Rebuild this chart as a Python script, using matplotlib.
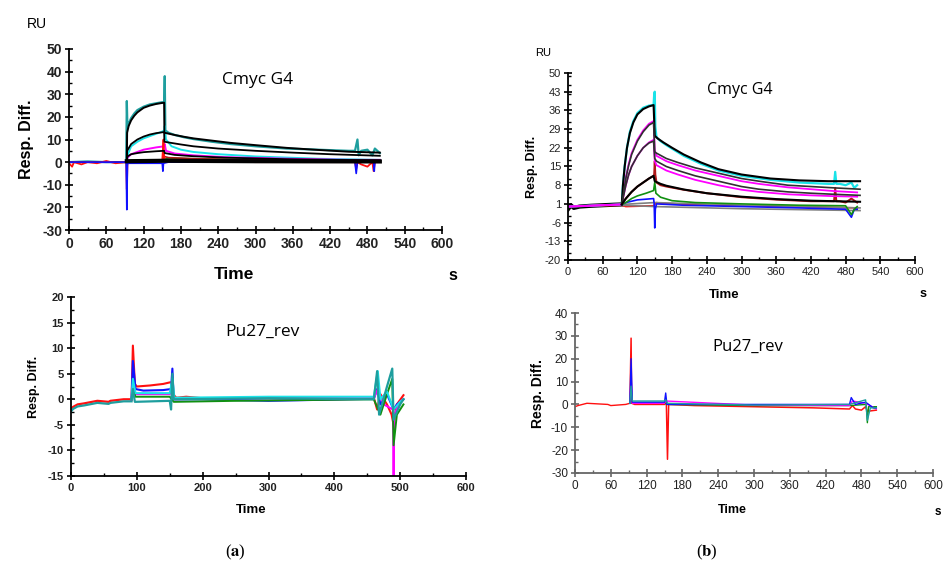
import matplotlib

matplotlib.use("Agg")
import matplotlib.pyplot as plt
from matplotlib.ticker import MultipleLocator

plt.rcParams["font.family"] = ["Liberation Sans", "DejaVu Sans"]
plt.rcParams["mathtext.fontset"] = "stix"
plt.rcParams["axes.unicode_minus"] = False

TEAL = "#1e9e9e"
CYAN = "#19e3e8"
MAGENTA = "#ff00ff"
RED = "#ff1010"
DKRED = "#b01818"
BLUE = "#1010ff"
GREEN = "#109010"
GRAY = "#808080"

# ---- panel (a) top: Cmyc G4 ----
A1_TEAL_T = [0, 30, 60, 92, 93, 94, 96, 100, 105, 110, 120, 130, 140, 150, 153, 154, 155, 160, 170, 185, 200, 230, 260, 300, 350, 400, 450, 460, 464, 466, 470, 480, 488, 492, 500]
A1_TEAL_Y = [0, 0.3, 0, 0, 27, 15, 17, 19.5, 21.5, 23, 24.5, 25.5, 26, 26.5, 26, 38, 14, 13, 12, 11, 10.2, 9, 8, 7, 6, 5.5, 5, 5, 10, 3, 5, 5.5, 3, 6, 4]
A1_FIT1_T = [93, 93.5, 96, 100, 105, 110, 120, 130, 140, 153, 153.5, 160, 170, 185, 200, 230, 260, 300, 350, 400, 450, 500]
A1_FIT1_Y = [0, 13, 16, 18.5, 20.5, 22, 24, 25, 25.7, 26.3, 13, 12.6, 12, 11.2, 10.5, 9.5, 8.5, 7.5, 6.3, 5.4, 4.6, 4.2]
A1_CYAN_T = [0, 93, 94, 100, 110, 120, 130, 140, 150, 153, 154, 156, 165, 180, 200, 240, 300, 400, 500]
A1_CYAN_Y = [0, 0, 3, 7, 9, 10.5, 11.5, 12.5, 13.5, 14, 16, 10, 7, 5.5, 4.5, 3.5, 2.5, 1.5, 1]
A1_FIT2_T = [93, 93.5, 100, 110, 120, 130, 140, 153, 153.5, 160, 180, 200, 240, 300, 360, 420, 500]
A1_FIT2_Y = [0, 5, 8, 10, 11.3, 12.2, 12.8, 13.3, 9, 8.7, 7.8, 7, 6, 5, 4.2, 3.5, 2.8]
A1_MAG_T = [0, 93, 94, 100, 110, 120, 130, 140, 153, 154, 156, 170, 200, 250, 350, 450, 500]
A1_MAG_Y = [0, 0, 2, 3.5, 4.5, 5.5, 6, 6.5, 7, 8, 5, 3.8, 3, 2.2, 1.5, 1, 1]
A1_FIT3_T = [93, 94, 100, 110, 120, 140, 153, 154, 170, 200, 250, 350, 450, 500]
A1_FIT3_Y = [0, 2.5, 3.5, 4, 4.4, 4.8, 5, 4, 3.2, 2.6, 2, 1.3, 0.9, 0.8]
A1_GREEN_T = [0, 93, 100, 150, 153, 160, 200, 300, 400, 500]
A1_GREEN_Y = [0, 0, 0.8, 1, 1.2, 1.8, 1.5, 1, 0.5, 0.5]
A1_DKRED_T = [0, 93, 100, 150, 153, 160, 200, 300, 400, 500]
A1_DKRED_Y = [0, 0, 0.5, 0.5, 2.5, 2, 1.5, 1.0, 0.6, 0.3]
A1_RED_T = [0, 5, 8, 20, 30, 45, 60, 75, 92, 93, 94, 95, 100, 150, 152, 153, 154, 160, 200, 300, 400, 460, 462, 464, 470, 480, 488, 490, 492, 500]
A1_RED_Y = [-0.5, -2, 0, -1, 0, -0.5, 0.5, -0.5, 0, -12, -1, 0, 0.5, 0.5, 10, 3, 1, 0.5, 0.3, 0, 0, 0, -3, 0, -1, -2, 0, -4, 0, 0]
A1_BLUE_T = [0, 92, 93, 94, 95, 100, 150, 151, 152, 160, 300, 460, 462, 464, 490, 491, 492, 500]
A1_BLUE_Y = [0, 0, -21, -1, -0.5, -0.5, -0.5, -4, -0.5, 0, 0, 0, -5, 0, 0, -4, 0, 0]
A1_FIT0_T = [93, 153, 300, 500]
A1_FIT0_Y = [0.4, 0.6, 0.4, 0.3]

# ---- panel (b) top: Cmyc G4 ----
B1_BASE_T = [0, 5, 10, 20, 40, 60, 80, 93]
B1_BASE_Y = [-1, 0.5, -0.5, 0, 0.3, 0.5, 0.7, 0.8]
B1_CYAN_T = [0, 93, 95, 98, 102, 107, 113, 120, 130, 140, 148, 149, 150, 151, 153, 160, 170, 185, 200, 230, 260, 300, 350, 400, 450, 460, 462, 464, 470, 480, 490, 495, 500]
B1_CYAN_Y = [0, 0.8, 8, 15, 22, 28, 32, 35, 37, 37.8, 38, 42, 43, 30, 26, 24.5, 23, 21, 19, 16, 13.5, 11.5, 10, 9, 8.5, 8.5, 13, 8.5, 8.5, 8, 9, 7, 8]
B1_FIT1_T = [93, 95, 98, 102, 107, 113, 120, 130, 140, 148, 150, 155, 165, 180, 200, 230, 260, 300, 350, 400, 450, 505]
B1_FIT1_Y = [0.8, 8, 15, 22, 27.5, 31.5, 34.5, 36.5, 37.5, 38, 26.5, 25.5, 24, 22, 19.5, 16.5, 14, 12, 10.5, 9.8, 9.5, 9.5]
B1_MAG1_T = [0, 93, 96, 100, 105, 110, 120, 130, 140, 148, 150, 153, 170, 190, 220, 260, 300, 330, 380, 420, 460, 500]
B1_MAG1_Y = [0, 0.8, 5, 11, 16, 20, 25, 28.5, 31, 32, 21, 19, 17, 15.5, 13.5, 11.5, 9.5, 8.5, 7.2, 6.5, 5.8, 5.3]
B1_FIT2_T = [93, 96, 100, 105, 110, 120, 130, 140, 148, 150, 153, 170, 190, 220, 260, 300, 330, 380, 420, 460, 505]
B1_FIT2_Y = [0.8, 5, 10.5, 15.5, 19.5, 24.5, 28, 30.5, 31.5, 20.5, 20, 18, 16.5, 14.5, 12.5, 10.5, 9.5, 8, 7.5, 7, 6.5]
B1_MAG2_T = [0, 93, 96, 100, 105, 110, 120, 130, 140, 148, 150, 153, 170, 190, 220, 260, 300, 330, 380, 420, 460, 500]
B1_MAG2_Y = [0, 0.8, 4, 8, 12, 15, 19, 22, 24, 25, 17, 15.5, 13.5, 12, 10, 8, 6.3, 5.5, 4.6, 4.2, 3.9, 3.7]
B1_FIT3_T = [93, 96, 100, 105, 110, 120, 130, 140, 148, 150, 153, 170, 190, 220, 260, 300, 330, 380, 420, 460, 505]
B1_FIT3_Y = [0.8, 4, 8, 12, 15, 19, 22, 23.8, 24.5, 18, 17, 15, 13.5, 11.5, 9.5, 7.5, 6.5, 5.5, 5, 4.6, 4.2]
B1_DKRED_T = [0, 93, 95, 100, 110, 120, 130, 140, 148, 149, 150, 151, 153, 160, 170, 200, 240, 300, 360, 420, 458, 460, 462, 464, 470, 480, 490, 500]
B1_DKRED_Y = [0, 0.8, 1.5, 3, 5.5, 7.5, 9, 10.5, 11.5, 12, 17, 12, 9, 8, 7.5, 6.3, 5, 3.5, 2.6, 2, 2, 2, 7, 2, 2, 1.5, 3, 1.5]
B1_FIT4_T = [93, 95, 100, 110, 120, 130, 140, 148, 150, 160, 170, 200, 240, 300, 360, 420, 505]
B1_FIT4_Y = [0.8, 1.5, 3, 5.5, 7.5, 9, 10.5, 11.5, 9.5, 8.5, 7.8, 6.4, 5, 3.7, 2.8, 2.2, 1.8]
B1_GREEN_T = [0, 93, 100, 110, 120, 135, 148, 150, 152, 160, 180, 220, 300, 400, 480, 490, 495, 500]
B1_GREEN_Y = [0, 0.8, 1.5, 3, 4, 5, 6, 9, 5, 3.5, 2.2, 1.5, 1, 0.5, 0.3, -3, -1, 0]
B1_BLUE_T = [0, 93, 100, 120, 148, 149, 150, 151, 153, 200, 300, 400, 480, 490, 495, 500]
B1_BLUE_Y = [0, 0.8, 1.5, 2.5, 3, 1, -8, -1, 1, 0.5, 0, -0.5, -1, -4, -1, -1]
B1_RED_T = [0, 93, 100, 148, 153, 160, 300, 400, 500]
B1_RED_Y = [0, 0.5, 0, 0.3, 1.5, 1.2, 0.3, 0, -0.5]
B1_GRAY1_T = [93, 150, 300, 505]
B1_GRAY1_Y = [0.8, 1.5, 0.5, -0.5]
B1_GRAY2_T = [93, 150, 300, 505]
B1_GRAY2_Y = [0.5, 0, -0.8, -1.5]

# ---- panel (a) bottom: Pu27_rev ----
A2_BASE_T = [0, 3, 10, 20, 40, 57, 60, 80, 92]
A2_BASE_Y = [-2, -1.5, -1, -0.8, -0.3, -0.5, -0.3, 0, 0]
A2_RED_T = [92, 94, 97, 100, 120, 140, 150, 153, 155, 160, 175, 200, 300, 460, 465, 470, 480, 487, 490, 495, 505]
A2_RED_Y = [0, 10.5, 3, 2.5, 2.7, 3, 3.3, 3.3, 1, 0.3, 0.5, 0.2, 0.3, 0.3, -2, 1, -1, -3, -5, -1, 0.8]
A2_BLUE_T = [92, 94, 98, 110, 140, 152, 154, 156, 200, 300, 460, 465, 470, 480, 490, 495, 505]
A2_BLUE_Y = [0, 7.5, 2, 1.7, 1.8, 2, 6, 0, 0, -0.3, 0.1, 2, -1, 1, -2, -1, 0]
A2_MAG_T = [92, 94, 98, 150, 154, 156, 250, 460, 466, 475, 489, 490, 491, 500, 505]
A2_MAG_Y = [0, 3, 1, 1, 2, 0, 0.2, 0.2, 2, -1, -2, -15, -3, -0.5, 0]
A2_GREEN_T = [92, 94, 98, 150, 156, 250, 460, 470, 480, 488, 490, 495, 500, 505]
A2_GREEN_Y = [0, 2, 0.5, 0.5, -0.5, -0.3, 0, -3, 1, 4, -9, -3, -2, -1]
A2_TEAL_T = [92, 94, 97, 150, 152, 154, 156, 300, 460, 465, 468, 480, 488, 490, 500, 505]
A2_TEAL_Y = [0, 2, -0.5, -0.3, -2, 5, 0, 0.2, 0, 5.5, -3, 2.5, 6, -4, -1, 0]
A2_CYAN_T = [92, 94, 98, 150, 154, 157, 300, 460, 466, 470, 480, 490, 500, 505]
A2_CYAN_Y = [0, 4, 1.2, 1.2, 4, 0.3, 0.5, 0.5, 5.5, 0, 1.5, -2, -0.5, 0]

# ---- panel (b) bottom: Pu27_rev ----
B2_BASE_T = [0, 5, 20, 55, 60, 85, 92]
B2_BASE_Y = [-1, -0.5, 0.5, 0, -0.5, 0, 0.5]
B2_RED_T = [92, 94, 95, 100, 150, 153, 155, 157, 200, 300, 400, 460, 465, 470, 480, 487, 490, 505]
B2_RED_Y = [0.5, 29, 0.5, 0, 0, 2, -24, 0, -0.5, -1, -1.5, -2, -0.5, -2, -2.5, -1, -3, -2.5]
B2_BLUE_T = [92, 94, 96, 150, 152, 154, 300, 460, 463, 470, 487, 500, 505]
B2_BLUE_Y = [0.5, 20, 1, 1, 5, 0, 0, 0, 3, 0, 1, -1.5, -1.5]
B2_TEAL_T = [92, 94, 96, 150, 152, 155, 300, 460, 487, 490, 495, 505]
B2_TEAL_Y = [0.5, 8, 1.5, 1.5, 2, 0.5, -0.3, 0, 2, -7, -1.5, -1.5]
B2_GREEN_T = [92, 94, 96, 150, 155, 300, 460, 488, 490, 492, 505]
B2_GREEN_Y = [0.5, 8, 0.5, 0.5, 0, -0.5, -0.5, 0, -8, -1, -1]
B2_MAG_T = [92, 94, 96, 150, 152, 300, 460, 465, 487, 505]
B2_MAG_Y = [0.5, 12, 0.5, 0.5, 1.5, -0.3, -0.5, 1.5, 0.5, -2]


def style_axis(ax, xmax, xmajor, ymin, ymax, ymajor, yticks=None, size=7.5, bold=False, color="black"):
    for side in ("top", "right"):
        ax.spines[side].set_visible(False)
    for side in ("left", "bottom"):
        ax.spines[side].set_color(color)
        ax.spines[side].set_linewidth(1.3)
    ax.set_xlim(0, xmax)
    ax.set_ylim(ymin, ymax)
    ax.xaxis.set_major_locator(MultipleLocator(xmajor))
    ax.xaxis.set_minor_locator(MultipleLocator(xmajor / 2))
    if yticks is None:
        ax.yaxis.set_major_locator(MultipleLocator(ymajor))
    else:
        ax.set_yticks(yticks)
    ax.yaxis.set_minor_locator(MultipleLocator(ymajor / 2))
    ax.tick_params(which="major", direction="inout", length=6, width=1.2, color=color,
                   labelsize=size, pad=2)
    ax.tick_params(which="minor", direction="in", length=2.5, width=1.0, color=color)
    for lab in ax.get_xticklabels() + ax.get_yticklabels():
        lab.set_fontweight("bold" if bold else "normal")
        lab.set_color("#222222")


fig = plt.figure(figsize=(9.44, 5.64), dpi=100)
W, H = 944, 564


def add_axes(left, right, top, bottom):
    return fig.add_axes([left / W, 1 - bottom / H, (right - left) / W, (bottom - top) / H])


# (a) top
ax = add_axes(69, 442, 49, 230)
ax.plot(A1_TEAL_T, A1_TEAL_Y, color=TEAL, lw=1.6)
ax.plot(A1_CYAN_T, A1_CYAN_Y, color=CYAN, lw=1.4)
ax.plot(A1_MAG_T, A1_MAG_Y, color=MAGENTA, lw=1.4)
ax.plot(A1_GREEN_T, A1_GREEN_Y, color=GREEN, lw=1.2)
ax.plot(A1_DKRED_T, A1_DKRED_Y, color=DKRED, lw=1.2)
ax.plot(A1_RED_T, A1_RED_Y, color=RED, lw=1.3)
ax.plot(A1_BLUE_T, A1_BLUE_Y, color=BLUE, lw=1.2)
ax.plot(A1_FIT1_T, A1_FIT1_Y, color="black", lw=1.4)
ax.plot(A1_FIT2_T, A1_FIT2_Y, color="black", lw=1.3)
ax.plot(A1_FIT3_T, A1_FIT3_Y, color="black", lw=1.3)
ax.plot(A1_FIT0_T, A1_FIT0_Y, color="black", lw=3.0)
style_axis(ax, 600, 60, -30, 50, 10, size=10, bold=True)
ax.set_ylabel("Resp. Diff.", fontsize=11.5, fontweight="bold", labelpad=6)
ax.text(0.443, -0.245, "Time", transform=ax.transAxes, ha="center", va="center", fontsize=12.5, fontweight="bold")
fig.text(453 / W, 1 - 275 / H, "s", ha="center", va="center", fontsize=11.5, fontweight="bold")
fig.text(37 / W, 1 - 24 / H, "RU", ha="center", va="center", fontsize=10)
fig.text(258 / W, 1 - 80 / H, "Cmyc G4", ha="center", va="center", fontsize=12.5, family="Open Sans")

# (b) top
ax = add_axes(568, 915, 73, 260)
ax.plot(B1_BASE_T, B1_BASE_Y, color="black", lw=3.0)
ax.plot(B1_RED_T, B1_RED_Y, color=RED, lw=1.2)
ax.plot(B1_GRAY1_T, B1_GRAY1_Y, color=GRAY, lw=1.2)
ax.plot(B1_GRAY2_T, B1_GRAY2_Y, color=GRAY, lw=1.2)
ax.plot(B1_BLUE_T, B1_BLUE_Y, color=BLUE, lw=1.2)
ax.plot(B1_GREEN_T, B1_GREEN_Y, color=GREEN, lw=1.2)
ax.plot(B1_DKRED_T, B1_DKRED_Y, color=DKRED, lw=1.4)
ax.plot(B1_CYAN_T, B1_CYAN_Y, color=CYAN, lw=1.6)
ax.plot(B1_MAG1_T, B1_MAG1_Y, color=MAGENTA, lw=1.3)
ax.plot(B1_MAG2_T, B1_MAG2_Y, color=MAGENTA, lw=1.3)
ax.plot(B1_FIT1_T, B1_FIT1_Y, color="black", lw=1.5)
ax.plot(B1_FIT2_T, B1_FIT2_Y, color="#303030", lw=1.2)
ax.plot(B1_FIT3_T, B1_FIT3_Y, color="#303030", lw=1.2)
ax.plot(B1_FIT4_T, B1_FIT4_Y, color="black", lw=1.5)
style_axis(ax, 600, 60, -20, 50, 7, yticks=list(range(-20, 51, 7)), size=8)
ax.set_ylabel("Resp. Diff.", fontsize=9, fontweight="bold", labelpad=5)
ax.text(0.45, -0.185, "Time", transform=ax.transAxes, ha="center", va="center", fontsize=9.5, fontweight="bold")
fig.text(923 / W, 1 - 294 / H, "s", ha="center", va="center", fontsize=9, fontweight="bold")
fig.text(543 / W, 1 - 53 / H, "RU", ha="center", va="center", fontsize=8)
fig.text(740 / W, 1 - 90 / H, "Cmyc G4", ha="center", va="center", fontsize=11.5, family="Open Sans")

# (a) bottom
ax = add_axes(71, 466, 297, 476)
ax.plot(A2_BASE_T, A2_BASE_Y, color=RED, lw=1.6)
ax.plot(A2_BASE_T, [v - 0.4 for v in A2_BASE_Y], color=TEAL, lw=1.6)
ax.plot(A2_RED_T, A2_RED_Y, color=RED, lw=1.5)
ax.plot(A2_BLUE_T, A2_BLUE_Y, color=BLUE, lw=1.5)
ax.plot(A2_MAG_T, A2_MAG_Y, color=MAGENTA, lw=1.4)
ax.plot(A2_GREEN_T, A2_GREEN_Y, color=GREEN, lw=1.4)
ax.plot(A2_CYAN_T, A2_CYAN_Y, color=CYAN, lw=1.5)
ax.plot(A2_TEAL_T, A2_TEAL_Y, color=TEAL, lw=1.6)
style_axis(ax, 600, 100, -15, 20, 5, size=8, bold=True)
ax.set_ylabel("Resp. Diff.", fontsize=9, fontweight="bold", labelpad=6)
ax.text(0.455, -0.19, "Time", transform=ax.transAxes, ha="center", va="center", fontsize=9.5, fontweight="bold")
fig.text(262 / W, 1 - 332 / H, "Pu27_rev", ha="center", va="center", fontsize=12.5, family="Open Sans")

# (b) bottom
ax = add_axes(575, 933, 313, 473)
ax.plot(B2_BASE_T, B2_BASE_Y, color=RED, lw=1.0)
ax.plot(B2_RED_T, B2_RED_Y, color=RED, lw=1.1)
ax.plot(B2_GREEN_T, B2_GREEN_Y, color=GREEN, lw=1.0)
ax.plot(B2_MAG_T, B2_MAG_Y, color=MAGENTA, lw=1.0)
ax.plot(B2_BLUE_T, B2_BLUE_Y, color=BLUE, lw=1.0)
ax.plot(B2_TEAL_T, B2_TEAL_Y, color=TEAL, lw=1.0)
style_axis(ax, 600, 60, -30, 40, 10, size=8.5, color="#666666")
ax.set_ylabel("Resp. Diff.", fontsize=10, fontweight="bold", labelpad=4)
ax.text(0.44, -0.23, "Time", transform=ax.transAxes, ha="center", va="center", fontsize=9, fontweight="bold")
fig.text(938 / W, 1 - 512 / H, "s", ha="center", va="center", fontsize=8.5, fontweight="bold")
fig.text(748 / W, 1 - 347 / H, "Pu27_rev", ha="center", va="center", fontsize=12, family="Open Sans")

# panel letters
fig.text(235 / W, 1 - 552 / H, r"($\mathbf{a}$)", ha="center", va="center", fontsize=12, family="Liberation Serif")
fig.text(707 / W, 1 - 552 / H, r"($\mathbf{b}$)", ha="center", va="center", fontsize=12, family="Liberation Serif")

fig.savefig("out.png", dpi=100)
